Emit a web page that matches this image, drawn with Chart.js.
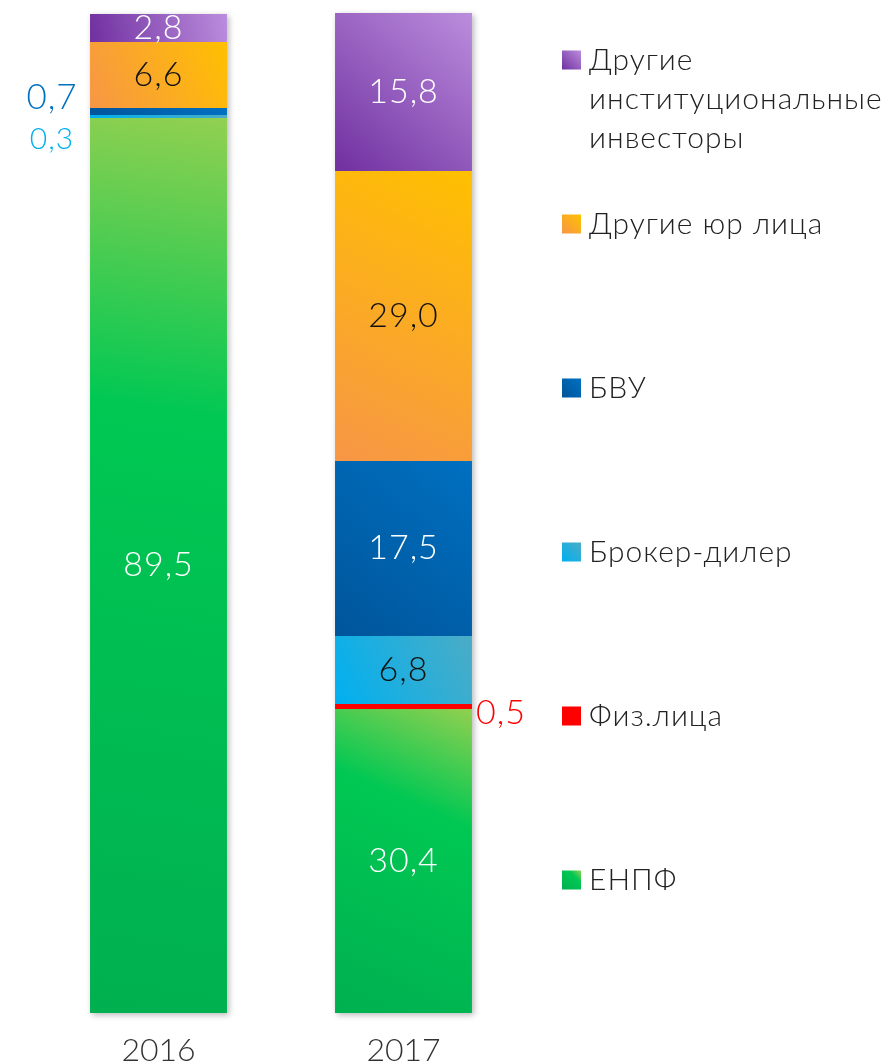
<!DOCTYPE html>
<html lang="ru">
<head>
<meta charset="utf-8">
<title>Структура инвесторов</title>
<script src="https://cdn.jsdelivr.net/npm/chart.js@4.4.1/dist/chart.umd.min.js"></script>
<style>
  html, body { margin: 0; padding: 0; background: #fff; overflow: hidden; }
  .chart-wrap { position: relative; width: 895px; height: 1081px; }
</style>
</head>
<body>
<div class="chart-wrap"><canvas id="investorsChart"></canvas></div>
<script>
const years = ['2016', '2017'];
const enpf = [89.5, 30.4];
const individuals = [0, 0.5];
const brokers = [0.3, 6.8];
const banks = [0.7, 17.5];
const otherLegal = [6.6, 29.0];
const otherInstitutional = [2.8, 15.8];

const seriesNames = ['ЕНПФ', 'Физ.лица', 'Брокер-дилер', 'БВУ', 'Другие юр лица', 'Другие институциональные инвесторы'];
const seriesValues = [enpf, individuals, brokers, banks, otherLegal, otherInstitutional];

// gradient stops per series, top-right -> bottom-left
const palettes = [
  [[0, '#92d050'], [0.33, '#00c853'], [1, '#00b050']],
  [[0, '#ff0000'], [1, '#ff0000']],
  [[0, '#4bacc6'], [1, '#00b0f0']],
  [[0, '#0070c0'], [1, '#00559b']],
  [[0, '#ffc000'], [1, '#f79646']],
  [[0, '#bb8ddd'], [1, '#7030a0']],
];

const FONT = 'Lato, "Open Sans", sans-serif';
const CAT_PCT = 0.559;

// where a value label sits when it does not go in the middle of its segment
const labelOverrides = {
  '3-0': { color: '#0070c0', size: 35, side: 'left', dy: -14 },
  '2-0': { color: '#00b0f0', size: 30, side: 'left', dy: 23 },
  '1-1': { color: '#ff0000', size: 34, side: 'right', dy: 7 },
};
const darkLabelSeries = [2, 4];

function makeGradient(c, left, top, right, bottom, stops) {
  const g = c.createLinearGradient(right, top, left, bottom);
  stops.forEach(([pos, col]) => g.addColorStop(pos, col));
  return g;
}

function barHalfWidth(chart) {
  return chart.scales.x.width / years.length * CAT_PCT / 2;
}

function segmentFill(ctx) {
  const chart = ctx.chart;
  const stops = palettes[ctx.datasetIndex];
  if (!chart.chartArea || ctx.type !== 'data') return stops[0][1];
  const xs = chart.scales.x;
  const ys = chart.scales.y;
  const i = ctx.dataIndex;
  let base = 0;
  for (let d = 0; d < ctx.datasetIndex; d++) base += seriesValues[d][i];
  const v = seriesValues[ctx.datasetIndex][i];
  const half = barHalfWidth(chart);
  const cx = xs.getPixelForValue(i);
  return makeGradient(chart.ctx, cx - half, ys.getPixelForValue(base + v), cx + half, ys.getPixelForValue(base), stops);
}

const fmt = (v) => v.toFixed(1).replace('.', ',');

const barShadow = {
  id: 'barShadow',
  beforeDatasetsDraw(chart) {
    const c = chart.ctx;
    const half = barHalfWidth(chart);
    years.forEach((_, i) => {
      const total = seriesValues.reduce((s, arr) => s + arr[i], 0);
      const cx = chart.scales.x.getPixelForValue(i);
      const top = chart.scales.y.getPixelForValue(total);
      const bottom = chart.scales.y.getPixelForValue(0);
      c.save();
      c.shadowColor = 'rgba(0,0,0,0.28)';
      c.shadowBlur = 6;
      c.shadowOffsetX = 2;
      c.shadowOffsetY = 2;
      c.fillStyle = '#fff';
      c.fillRect(cx - half, top, half * 2, bottom - top);
      c.restore();
    });
  },
};

const valueLabels = {
  id: 'valueLabels',
  afterDatasetsDraw(chart) {
    const c = chart.ctx;
    c.save();
    c.textAlign = 'center';
    c.textBaseline = 'middle';
    c.letterSpacing = '1px';
    chart.data.datasets.forEach((ds, d) => {
      chart.getDatasetMeta(d).data.forEach((el, i) => {
        const v = ds.data[i];
        if (!v) return;
        const { x, y, base, width } = el.getProps(['x', 'y', 'base', 'width'], true);
        const o = labelOverrides[d + '-' + i];
        let lx = x;
        let ly = (y + base) / 2;
        let color = darkLabelSeries.includes(d) ? '#111' : '#fff';
        let size = 34;
        if (o) {
          color = o.color;
          size = o.size;
          lx = o.side === 'left' ? x - width / 2 - 38 : x + width / 2 + 29;
          ly += o.dy;
        }
        c.font = '300 ' + size + 'px ' + FONT;
        c.fillStyle = color;
        c.fillText(fmt(v), lx, ly);
      });
    });
    c.restore();
  },
};

const legendItems = [
  { series: 5, lines: ['Другие', 'институциональные', 'инвесторы'] },
  { series: 4, lines: ['Другие юр лица'] },
  { series: 3, lines: ['БВУ'] },
  { series: 2, lines: ['Брокер-дилер'] },
  { series: 1, lines: ['Физ.лица'] },
  { series: 0, lines: ['ЕНПФ'] },
];

const sideLegend = {
  id: 'sideLegend',
  afterDraw(chart) {
    const c = chart.ctx;
    const boxX = 562, box = 19, textX = 589, firstY = 60, step = 164, lineH = 39;
    c.save();
    c.font = '300 30px ' + FONT;
    c.letterSpacing = '1px';
    c.textAlign = 'left';
    c.textBaseline = 'middle';
    legendItems.forEach((item, k) => {
      const cy = firstY + k * step;
      c.fillStyle = makeGradient(c, boxX, cy - box / 2, boxX + box, cy + box / 2, palettes[item.series]);
      c.fillRect(boxX, cy - box / 2, box, box);
      c.fillStyle = '#222';
      item.lines.forEach((line, n) => c.fillText(line, textX, cy + n * lineH));
    });
    c.restore();
  },
};

const chartData = {
  labels: years,
  datasets: seriesValues.map((vals, d) => ({
    label: seriesNames[d],
    data: vals,
    backgroundColor: segmentFill,
    borderWidth: 0,
    barPercentage: 1,
    categoryPercentage: CAT_PCT,
  })),
};

new Chart(document.getElementById('investorsChart').getContext('2d'), {
  type: 'bar',
  data: chartData,
  options: {
    responsive: true,
    maintainAspectRatio: false,
    animation: false,
    events: [],
    layout: { padding: { left: 36, right: 369, top: 13, bottom: 0 } },
    plugins: {
      legend: { display: false },
      tooltip: { enabled: false },
    },
    scales: {
      x: {
        stacked: true,
        grid: { display: false },
        border: { display: false },
        ticks: {
          color: '#333',
          padding: 14,
          font: { family: FONT, size: 32, weight: '300', lineHeight: 1 },
        },
      },
      y: {
        stacked: true,
        display: false,
        min: 0,
        max: 100,
      },
    },
  },
  plugins: [barShadow, valueLabels, sideLegend],
});
</script>
</body>
</html>
